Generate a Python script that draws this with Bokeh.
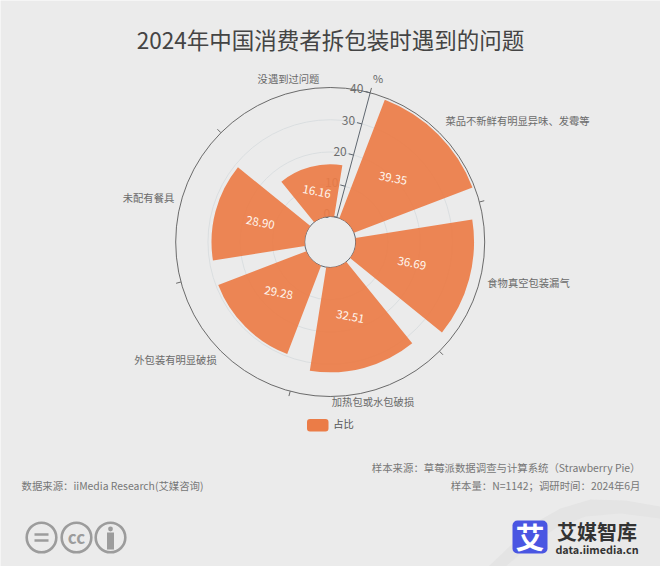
import math
from bokeh.core.properties import value
from bokeh.embed import file_html
from bokeh.models import Range1d
from bokeh.plotting import figure
from bokeh.resources import INLINE

title = "2024年中国消费者拆包装时遇到的问题"
categories = ["菜品不新鲜有明显异味、发霉等", "食物真空包装漏气", "加热包或水包破损",
              "外包装有明显破损", "未配有餐具", "没遇到过问题"]
values = [39.35, 36.69, 32.51, 29.28, 28.90, 16.16]
value_labels = ["39.35", "36.69", "32.51", "29.28", "28.90", "16.16"]
radial_ticks = [0, 10, 20, 30, 40]
legend_name = "占比"
unit = "%"
source_left = "数据来源：iiMedia Research(艾媒咨询)"
source_right_1 = "样本来源：草莓派数据调查与计算系统（Strawberry Pie）"
source_right_2 = "样本量：N=1142；调研时间：2024年6月"

# layout (page pixels)
W, H = 660, 566
CX, CY = 329.7, 241.5
PX_PER_UNIT = 3.225
HOLE = 25.5 / PX_PER_UNIT
RMAX = 40
START = 15
STEP = 60
BAR_HALF = 24
TEXT_DY = -1.2
cat_pos = [(517, 121), (528, 283), (372.5, 402), (175, 360), (148, 198), (288, 79)]

BG = "#ebebeb"
ORANGE = "#eb7c47"
FONT = value("Noto Sans CJK SC")


def P(x, y):
    return (x - CX) / PX_PER_UNIT, (CY - y) / PX_PER_UNIT


def polar(c, r):
    a = math.radians(c)
    return r * math.sin(a), r * math.cos(a)


x0, y0 = P(0, 0)
x1, y1 = P(W, H)
p = figure(width=W, height=H, output_backend="svg", toolbar_location=None,
           x_range=Range1d(x0, x1), y_range=Range1d(y1, y0), min_border=0,
           background_fill_color=BG, border_fill_color=BG, outline_line_color=None)
p.axis.visible = False
p.grid.visible = False


def txt(x, y, s, size, color, align="center", bold=False, angle=0):
    dx, dy = P(x, y + TEXT_DY)
    p.text([dx], [dy], text=[s], text_font=FONT, text_font_size=f"{size}px", text_color=color,
           text_align=align, text_baseline="middle", angle=math.radians(angle),
           text_font_style="bold" if bold else "normal")


def rounded(xa, ya, xb, yb, color, radius):
    l, t = P(xa, ya)
    r, b = P(xb, yb)
    p.quad(left=l, right=r, top=t, bottom=b, fill_color=color, line_color=None, border_radius=radius)


# background swoosh, bottom right
sw1 = [P(x, y) for x, y in [(488, 566), (510, 545), (535, 522), (560, 508), (590, 499), (625, 500), (660, 506), (660, 566)]]
p.patch([a for a, _ in sw1], [b for _, b in sw1], fill_color="#e4e4e4", line_color=None)
sw2 = [P(x, y) for x, y in [(505, 566), (530, 545), (555, 528), (585, 516), (620, 513), (660, 518), (660, 566)]]
p.patch([a for a, _ in sw2], [b for _, b in sw2], fill_color="#e9e9e9", line_color=None)

# grid circles and axes
for t in radial_ticks[1:-1]:
    p.circle(0, 0, radius=HOLE + t, fill_color=None, line_color="#dadee0", line_width=1)
p.circle(0, 0, radius=HOLE + RMAX, fill_color=None, line_color="#6a6a6a", line_width=1)
p.circle(0, 0, radius=HOLE, fill_color=None, line_color="#5f6770", line_width=1)

n = len(categories)
tick_angles = [START + STEP * i for i in range(n)]
for c in tick_angles:
    a = polar(c, HOLE + RMAX)
    b = polar(c, HOLE + RMAX + 5 / PX_PER_UNIT)
    p.segment(a[0], a[1], b[0], b[1], line_color="#6a6a6a", line_width=1)

a = polar(START, HOLE)
b = polar(START, HOLE + RMAX)
p.segment(a[0], a[1], b[0], b[1], line_color="#5f6770", line_width=1)
for t in radial_ticks:
    r = HOLE + t
    ax, ay = polar(START, r)
    bx, by = polar(START - 90, 5 / PX_PER_UNIT)
    p.segment(ax, ay, ax + bx, ay + by, line_color="#5f6770", line_width=1)
    lx, ly = polar(START - 90, 7 / PX_PER_UNIT)
    p.text([ax + lx], [ay + ly + 2 / PX_PER_UNIT], text=[str(t)], text_font=FONT, text_font_size="12px",
           text_color="#6e6e6e", text_align="right", text_baseline="middle")

# bars
mids = [START + STEP * i + STEP / 2 for i in range(n)]
for c, v in zip(mids, values):
    p.annular_wedge(0, 0, inner_radius=HOLE, outer_radius=HOLE + v,
                    start_angle=math.radians(90 - c - BAR_HALF), end_angle=math.radians(90 - c + BAR_HALF),
                    fill_color=ORANGE, fill_alpha=0.92, line_color=None)

for c, v, s in zip(mids, values, value_labels):
    lx, ly = polar(c, HOLE + v / 2)
    p.text([lx], [ly - TEXT_DY / PX_PER_UNIT], text=[s], text_font=FONT, text_font_size="11.5px", text_color="#fff6ee",
           text_align="center", text_baseline="middle", angle=math.radians(-11))

# texts
txt(330, 40, title, 22.5, "#444444")
txt(377.5, 78.5, unit, 11, "#666666")
for (x, y), s in zip(cat_pos, categories):
    txt(x, y, s, 10.3, "#6a6a6a")

# legend
rounded(306.5, 418.5, 328, 431, ORANGE, 3)
txt(343, 424, legend_name, 10.3, "#555555")

# footer
txt(640, 468, source_right_1, 10.4, "#777777", align="right")
txt(640, 486, source_right_2, 10.4, "#777777", align="right")
txt(21, 486, source_left, 10.4, "#777777", align="left")

# licence icons
for x in (41, 76, 110):
    cx, cy = P(x, 537)
    p.circle(cx, cy, radius=14.8 / PX_PER_UNIT, fill_color=None, line_color="#9c9c9c", line_width=2.6)
for yy in (534, 540):
    a, b = P(34, yy), P(48, yy)
    p.segment(a[0], a[1], b[0], b[1], line_color="#9c9c9c", line_width=2.6)
txt(76, 537, "cc", 17, "#9c9c9c", bold=True)
hx, hy = P(110, 528.5)
p.circle(hx, hy, radius=2.4 / PX_PER_UNIT, fill_color="#9c9c9c", line_color=None)
a, b = P(110, 532), P(110, 549)
p.segment(a[0], a[1], b[0], b[1], line_color="#9c9c9c", line_width=7)

# logo
rounded(512, 520, 547, 553, "#4a56e2", 5)
txt(529.5, 537, "艾", 29, "#ffffff", bold=True)
txt(596.5, 532, "艾媒智库", 20, "#333333", bold=True)
txt(596.5, 550, "data.iimedia.cn", 10.8, "#333333", bold=True)

open("out.html", "w").write(file_html(p, INLINE))
